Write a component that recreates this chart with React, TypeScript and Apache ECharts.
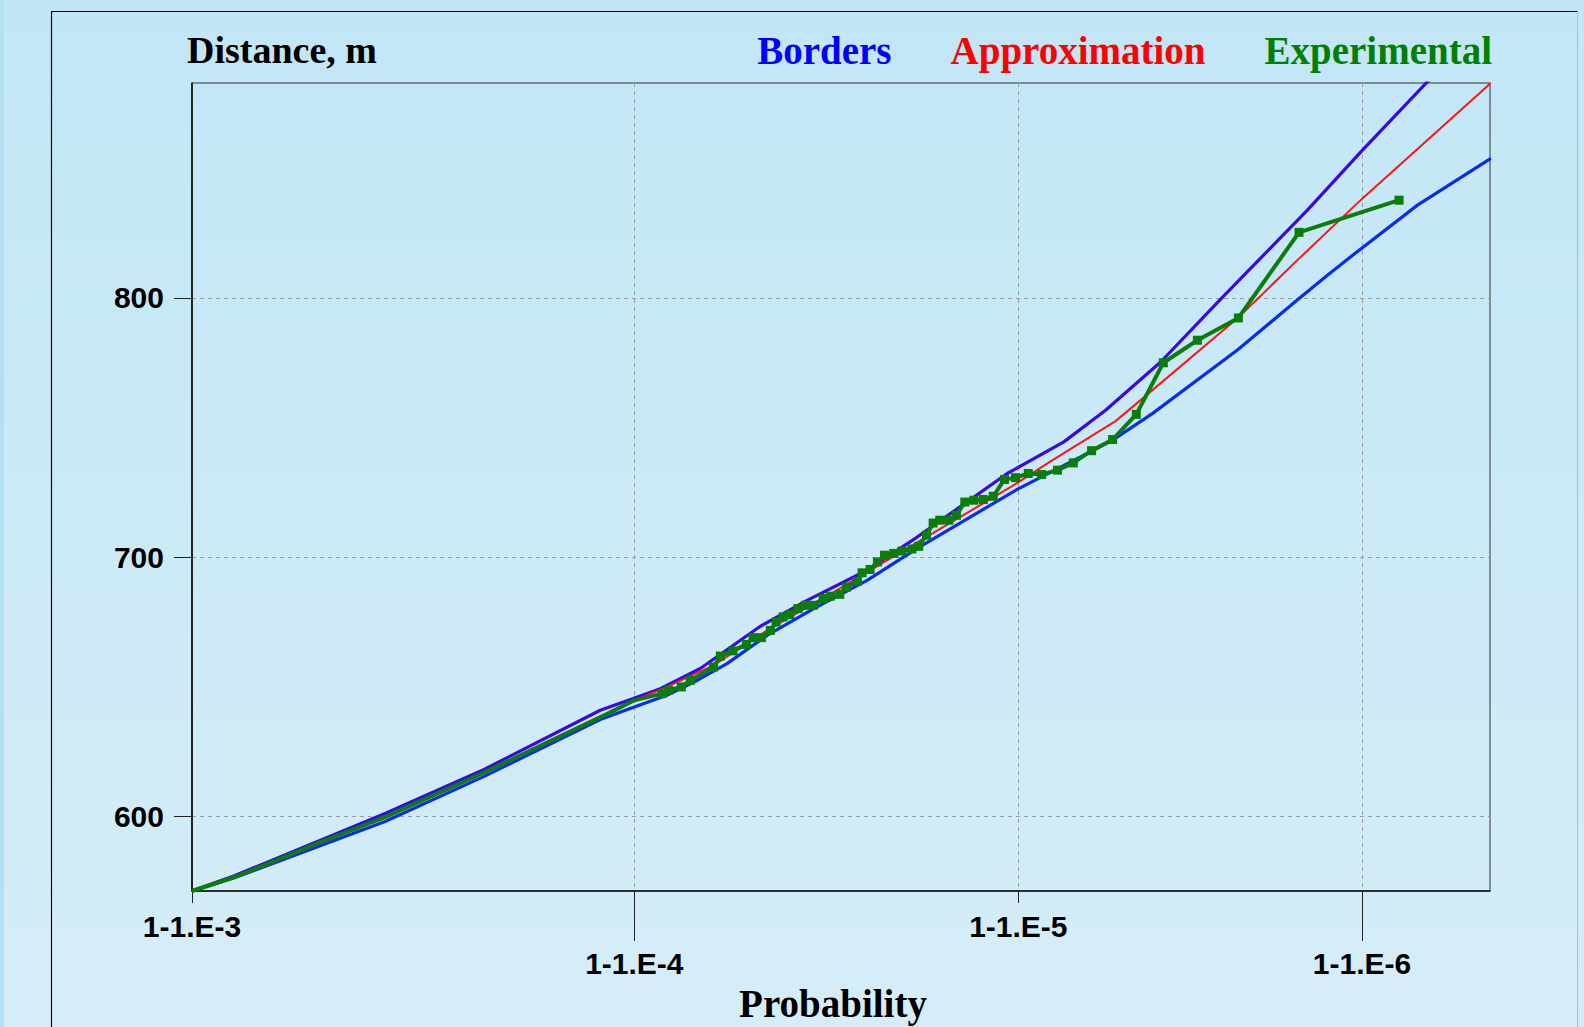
import React, { useEffect, useRef } from "react";
import * as echarts from "echarts";

// ---- Axis definitions (probability axis drawn on a normal-probability scale) ----
const xTickExceedRow1 = [1e-3, 1e-5];
const xTickLabelsRow1 = ["1-1.E-3", "1-1.E-5"];
const xTickExceedRow2 = [1e-4, 1e-6];
const xTickLabelsRow2 = ["1-1.E-4", "1-1.E-6"];
const xMinExceed = 1e-3;
const xMaxExceed = 4e-7;

const yTicks = [600, 700, 800];
const yMin = 571.3;
const yMax = 882.9;

// ---- Series values: [normal quantile of probability, distance m] ----
const bordersUpper: number[][] = [
  [3.0902, 571.3], [3.1514, 577.3], [3.3647, 601.2], [3.507, 618.4], [3.6706, 641.0],
  [3.7175, 645.5], [3.7559, 649.3], [3.8128, 657.1], [3.8982, 673.4], [3.9646, 683.4],
  [4.0499, 695.0], [4.1211, 707.8], [4.2491, 732.3], [4.3296, 744.5], [4.3889, 756.7],
  [4.4672, 775.3], [4.5549, 800.2], [4.6758, 833.9], [4.7541, 857.0], [4.8541, 885.6],
];

const bordersLower: number[][] = [
  [3.0902, 571.3], [3.1514, 576.5], [3.3647, 598.1], [3.507, 615.7], [3.6706, 637.4],
  [3.7179, 642.2], [3.7654, 646.8], [3.8081, 652.5], [3.8508, 659.0], [3.9077, 669.9],
  [3.974, 680.2], [4.0499, 691.1], [4.1211, 703.4], [4.2633, 726.2], [4.3581, 739.4],
  [4.3985, 745.1], [4.4553, 755.4], [4.5763, 779.9], [4.6639, 799.8], [4.7043, 808.8],
  [4.7374, 815.9], [4.8323, 835.8], [4.9366, 853.8],
];

const approximation: number[][] = [
  [3.0902, 571.3], [3.1514, 576.7], [3.3647, 599.7], [3.507, 617.1], [3.682, 639.8],
  [3.7175, 644.6], [3.7654, 650.0], [3.8317, 658.3], [3.9077, 671.8], [4.0024, 686.6],
  [4.1068, 703.4], [4.2585, 727.8], [4.3107, 737.0], [4.4031, 752.5], [4.4387, 760.6],
  [4.5785, 792.7], [4.6616, 814.6], [4.7541, 838.4], [4.9366, 882.9],
];

// leading part of the experimental curve, drawn without markers
const experimentalLead: number[][] = [
  [3.0902, 571.3], [3.1514, 576.7], [3.2794, 590.8], [3.3647, 599.8], [3.507, 617.2],
  [3.682, 639.8], [3.7175, 644.7],
];

// experimental points with markers
const experimentalPoints: number[][] = [
  [3.7583, 647.4], [3.7677, 648.7], [3.7858, 650.0], [3.7986, 652.5], [3.8317, 657.7],
  [3.8413, 661.9], [3.8593, 663.9], [3.8783, 666.4], [3.8878, 669.0], [3.8996, 669.0],
  [3.9124, 671.8], [3.9205, 675.0], [3.9305, 677.0], [3.9399, 677.9], [3.9518, 680.2],
  [3.9622, 681.5], [3.974, 681.5], [3.9874, 684.1], [3.9977, 685.0], [4.011, 685.7],
  [4.0205, 688.5], [4.0361, 690.7], [4.0428, 694.0], [4.0542, 695.3], [4.0646, 698.2],
  [4.0746, 700.8], [4.0878, 701.5], [4.0994, 702.4], [4.1137, 703.2], [4.1233, 704.2],
  [4.1343, 708.5], [4.1438, 713.2], [4.1532, 714.3], [4.166, 714.3], [4.177, 716.2],
  [4.1888, 721.3], [4.2016, 722.0], [4.215, 722.3], [4.2292, 723.5], [4.2452, 730.0],
  [4.2609, 730.7], [4.279, 732.3], [4.2979, 731.9], [4.3206, 733.6], [4.343, 736.4],
  [4.369, 741.1], [4.3989, 745.4], [4.4326, 755.1], [4.471, 775.0], [4.5194, 783.7],
  [4.5777, 792.3], [4.6639, 825.3], [4.8061, 837.7],
];

// inverse standard normal CDF (Acklam)
function probit(p: number): number {
  const a = [-3.969683028665376e1, 2.209460984245205e2, -2.759285104469687e2, 1.38357751867269e2, -3.066479806614716e1, 2.506628277459239];
  const b = [-5.447609879822406e1, 1.615858368580409e2, -1.556989798598866e2, 6.680131188771972e1, -1.328068155288572e1];
  const c = [-7.784894002430293e-3, -3.223964580411365e-1, -2.400758277161838, -2.549732539343734, 4.374664141464968, 2.938163982698783];
  const d = [7.784695709041462e-3, 3.224671290700398e-1, 2.445134137142996, 3.754408661907416];
  const plow = 0.02425;
  if (p < plow) {
    const q = Math.sqrt(-2 * Math.log(p));
    return (((((c[0] * q + c[1]) * q + c[2]) * q + c[3]) * q + c[4]) * q + c[5]) /
      ((((d[0] * q + d[1]) * q + d[2]) * q + d[3]) * q + 1);
  }
  if (p > 1 - plow) {
    const q = Math.sqrt(-2 * Math.log(1 - p));
    return -(((((c[0] * q + c[1]) * q + c[2]) * q + c[3]) * q + c[4]) * q + c[5]) /
      ((((d[0] * q + d[1]) * q + d[2]) * q + d[3]) * q + 1);
  }
  const q = p - 0.5;
  const r = q * q;
  return (((((a[0] * r + a[1]) * r + a[2]) * r + a[3]) * r + a[4]) * r + a[5]) * q /
    (((((b[0] * r + b[1]) * r + b[2]) * r + b[3]) * r + b[4]) * r + 1);
}
const zOfExceed = (q: number) => -probit(q);

export default function App() {
  const ref = useRef<HTMLDivElement>(null);

  useEffect(() => {
    if (!ref.current) return;
    const chart = echarts.init(ref.current, null, { renderer: "svg" });

    const zMin = zOfExceed(xMinExceed);
    const zMax = zOfExceed(xMaxExceed);
    const row1Z = xTickExceedRow1.map(zOfExceed);
    const row2Z = xTickExceedRow2.map(zOfExceed);
    const labelFor = (zs: number[], labels: string[]) => (v: number) => {
      for (let i = 0; i < zs.length; i++) if (Math.abs(zs[i] - v) < 1e-6) return labels[i];
      return "";
    };

    const axisFont = { fontFamily: "Liberation Sans", fontWeight: "bold" as const, fontSize: 30, color: "#000" };
    const serifFont = { fontFamily: "Liberation Serif", fontWeight: "bold" as const };
    const dashed = { show: true, lineStyle: { color: "#9c9c9c", width: 1, type: [4, 4] as number[] } };

    const experimentalData = [
      ...experimentalLead.map((p) => ({ value: p, symbol: "none" })),
      ...experimentalPoints.map((p) => ({ value: p })),
    ];

    chart.setOption({
      animation: false,
      backgroundColor: {
        type: "linear", x: 0, y: 0, x2: 0, y2: 1,
        colorStops: [{ offset: 0, color: "#c2e6f6" }, { offset: 1, color: "#d5edf7" }],
      },
      title: {
        text: "Distance, m", left: 187, top: 31, padding: 0,
        textStyle: { ...serifFont, fontSize: 38, color: "#000" },
      },
      legend: {
        right: 92, top: 31, padding: 0, itemGap: 54, itemWidth: 0, itemHeight: 0, icon: "rect",
        selectedMode: false,
        textStyle: { ...serifFont, fontSize: 39 },
        data: [
          { name: "Borders", textStyle: { color: "#0000ff" } },
          { name: "Approximation", textStyle: { color: "#ff0000" } },
          { name: "Experimental", textStyle: { color: "#008000" } },
        ],
      },
      grid: {
        left: 192, right: 94, top: 83, bottom: 136,
        show: true, borderColor: "#333", borderWidth: 1, backgroundColor: "transparent",
        containLabel: false, outerBoundsMode: "none",
      },
      xAxis: [
        {
          type: "value", position: "bottom", min: zMin, max: zMax,
          axisLine: { show: true, onZero: false, lineStyle: { color: "#111", width: 1.5 } },
          axisTick: { show: true, customValues: row1Z, length: 12, lineStyle: { color: "#222", width: 1 } },
          axisLabel: { show: true, customValues: row1Z, formatter: labelFor(row1Z, xTickLabelsRow1), margin: 20, ...axisFont },
          splitLine: dashed,
          name: "Probability", nameLocation: "middle", nameGap: 93,
          nameTextStyle: { ...serifFont, fontSize: 39, color: "#000", padding: [0, 16, 0, 0] },
        },
        {
          type: "value", position: "bottom", min: zMin, max: zMax,
          axisLine: { show: false, onZero: false },
          axisTick: { show: true, customValues: row2Z, length: 50, lineStyle: { color: "#222", width: 1 } },
          axisLabel: { show: true, customValues: row2Z, formatter: labelFor(row2Z, xTickLabelsRow2), margin: 57, ...axisFont },
          splitLine: dashed,
        },
      ],
      yAxis: {
        type: "value", min: yMin, max: yMax,
        axisLine: { show: true, onZero: false, lineStyle: { color: "#000", width: 1.5 } },
        axisTick: { show: true, customValues: yTicks, length: 18, lineStyle: { color: "#222", width: 1 } },
        axisLabel: { show: true, customValues: yTicks, margin: 28, ...axisFont },
        splitLine: dashed,
      },
      series: [
        {
          name: "Borders", type: "line", data: bordersLower, symbol: "none", showSymbol: false,
          lineStyle: { color: "#0a2cf2", width: 3.2 }, itemStyle: { color: "#0a2cf2" }, z: 2,
        },
        {
          name: "Borders", type: "line", data: bordersUpper, symbol: "none", showSymbol: false,
          lineStyle: { color: "#3a08e6", width: 3.2 }, itemStyle: { color: "#3a08e6" }, z: 3,
        },
        {
          name: "Approximation", type: "line", data: approximation, symbol: "none", showSymbol: false,
          lineStyle: { color: "#ff1414", width: 2 }, itemStyle: { color: "#ff1414" }, z: 4,
        },
        {
          name: "Experimental", type: "line", data: experimentalData, symbol: "rect", symbolSize: 9,
          showSymbol: true, lineStyle: { color: "#0b7d0b", width: 4 }, itemStyle: { color: "#0b7d0b" }, z: 5,
        },
      ],
      graphic: [
        { type: "rect", silent: true, z: -10, shape: { x: 0, y: 0, width: 4, height: 1027 }, style: { fill: "#b3e0f3" } },
        { type: "line", silent: true, shape: { x1: 51.5, y1: 11.5, x2: 51.5, y2: 1027 }, style: { stroke: "#000", lineWidth: 1.2 } },
        { type: "line", silent: true, shape: { x1: 51.5, y1: 11.5, x2: 1577.5, y2: 11.5 }, style: { stroke: "#000", lineWidth: 1.2 } },
        { type: "line", silent: true, shape: { x1: 1577.5, y1: 11.5, x2: 1577.5, y2: 1027 }, style: { stroke: "#9cc3d6", lineWidth: 1 } },
      ],
    });

    return () => chart.dispose();
  }, []);

  return <div ref={ref} style={{ position: "fixed", left: 0, top: 0, width: 1584, height: 1027 }} />;
}
